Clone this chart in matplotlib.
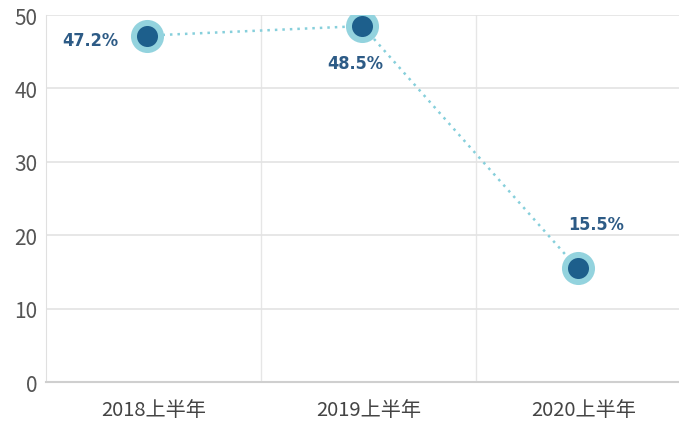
import matplotlib
matplotlib.use("Agg")
import matplotlib.pyplot as plt
import matplotlib.transforms as mtransforms

# donnees du graphique
periodes = ["2018上半年", "2019上半年", "2020上半年"]
valeurs = [47.2, 48.5, 15.5]
etiquettes = ["47.2%", "48.5%", "15.5%"]

plt.rcParams["font.family"] = ["Noto Sans CJK SC", "DejaVu Sans"]

fig = plt.figure(figsize=(6.79, 4.27), dpi=100)
ax = fig.add_axes([0.0677, 0.103, 0.95, 0.8595])

x = list(range(len(periodes)))
# petit decalage des marqueurs vers la gauche (comme la source)
decal = mtransforms.offset_copy(ax.transData, fig=fig, x=-6, y=0, units="dots")

ax.plot(x, valeurs, linestyle=(0, (1, 2)), color="#86cfdb", linewidth=1.8,
        transform=decal, zorder=2)
ax.scatter(x, valeurs, s=33 ** 2 * 0.52, color="#93d3de", transform=decal, zorder=3,
           linewidths=0)
ax.scatter(x, valeurs, s=21 ** 2 * 0.52, color="#1d5f8c", transform=decal, zorder=4,
           linewidths=0)

# etiquettes de valeurs
style = dict(fontsize=13, fontweight="heavy", color="#2d5b86",
             family=["DejaVu Sans"], fontstretch="condensed")
ax.annotate(etiquettes[0], (x[0], valeurs[0]), xytext=(-25, -3), textcoords="offset points",
            ha="right", va="center", **style)
ax.annotate(etiquettes[1], (x[1], valeurs[1]), xytext=(-9.5, -26.5), textcoords="offset points",
            ha="center", va="center", **style)
ax.annotate(etiquettes[2], (x[2], valeurs[2]), xytext=(9, 32), textcoords="offset points",
            ha="center", va="center", **style)

ax.set_xlim(-0.5, 2.5)
ax.set_ylim(0, 50)
ax.set_yticks([0, 10, 20, 30, 40, 50])
ax.set_xticks(x)
ax.set_xticklabels(periodes)
ax.set_xticks([0.5, 1.5], minor=True)

ax.grid(axis="y", which="major", color="#e3e3e3", linewidth=1.2)
ax.grid(axis="x", which="minor", color="#e6e6e6", linewidth=1.0)
ax.set_axisbelow(True)

for cote in ["top", "right"]:
    ax.spines[cote].set_visible(False)
ax.spines["left"].set_color("#e0e0e0")
ax.spines["bottom"].set_color("#cfcfcf")
ax.spines["bottom"].set_linewidth(1.5)

ax.tick_params(axis="both", which="both", length=0)
ax.tick_params(axis="y", labelsize=15, labelcolor="#555555", pad=6)
ax.tick_params(axis="x", labelsize=14.5, labelcolor="#444444", pad=12)

fig.savefig("out.png", dpi=100)
